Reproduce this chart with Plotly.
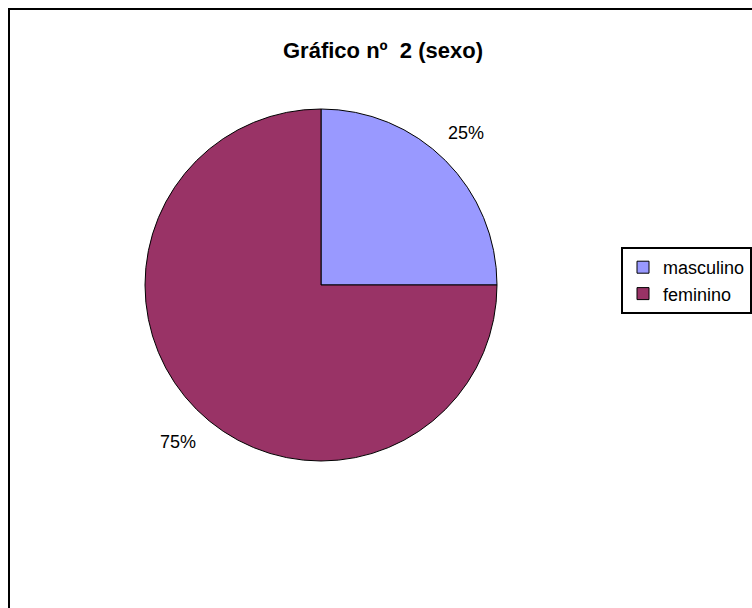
import plotly.graph_objects as go

labels = ["masculino", "feminino"]
values = [25, 75]
colors = ["#9999FF", "#993366"]
title_text = "Gráfico nº\u00a0 2 (sexo)"

W, H = 752, 608
FONT = "Arial, Liberation Sans"

total = sum(values)
pct_text = [f"{round(100 * v / total)}%" for v in values]
# label anchor positions (pixels) for each slice
label_pos = [(466, 133), (178, 442)]

fig = go.Figure()
fig.add_trace(go.Pie(
    labels=labels,
    values=values,
    sort=False,
    direction="clockwise",
    rotation=0,
    marker=dict(colors=colors, line=dict(color="black", width=1)),
    textinfo="none",
    hoverinfo="label+percent",
    domain=dict(x=[145 / W, 497 / W], y=[(H - 461) / H, (H - 109) / H]),
    showlegend=True,
))

annotations = [
    dict(text=t, x=px / W, y=1 - py / H, xref="paper", yref="paper",
         showarrow=False, xanchor="center", yanchor="middle",
         font=dict(family=FONT, size=18, color="black"))
    for t, (px, py) in zip(pct_text, label_pos)
]

fig.update_layout(
    width=W, height=H,
    margin=dict(l=0, r=0, t=0, b=0),
    paper_bgcolor="white",
    font=dict(family=FONT, color="black"),
    title=dict(text="<b>" + title_text + "</b>", x=383 / W, xanchor="center",
               y=1 - 50 / H, yanchor="middle",
               font=dict(size=22, family=FONT, color="black")),
    legend=dict(x=1, y=1 - 247 / H, xanchor="right", yanchor="top",
                bordercolor="black", borderwidth=2, bgcolor="white",
                font=dict(size=18, family=FONT, color="black")),
    annotations=annotations,
    shapes=[dict(type="rect", xref="paper", yref="paper",
                 x0=9 / W, x1=1.02, y0=-0.02, y1=1 - 9 / H,
                 line=dict(color="black", width=2), fillcolor="rgba(0,0,0,0)")],
)

fig.write_html("out.html")
